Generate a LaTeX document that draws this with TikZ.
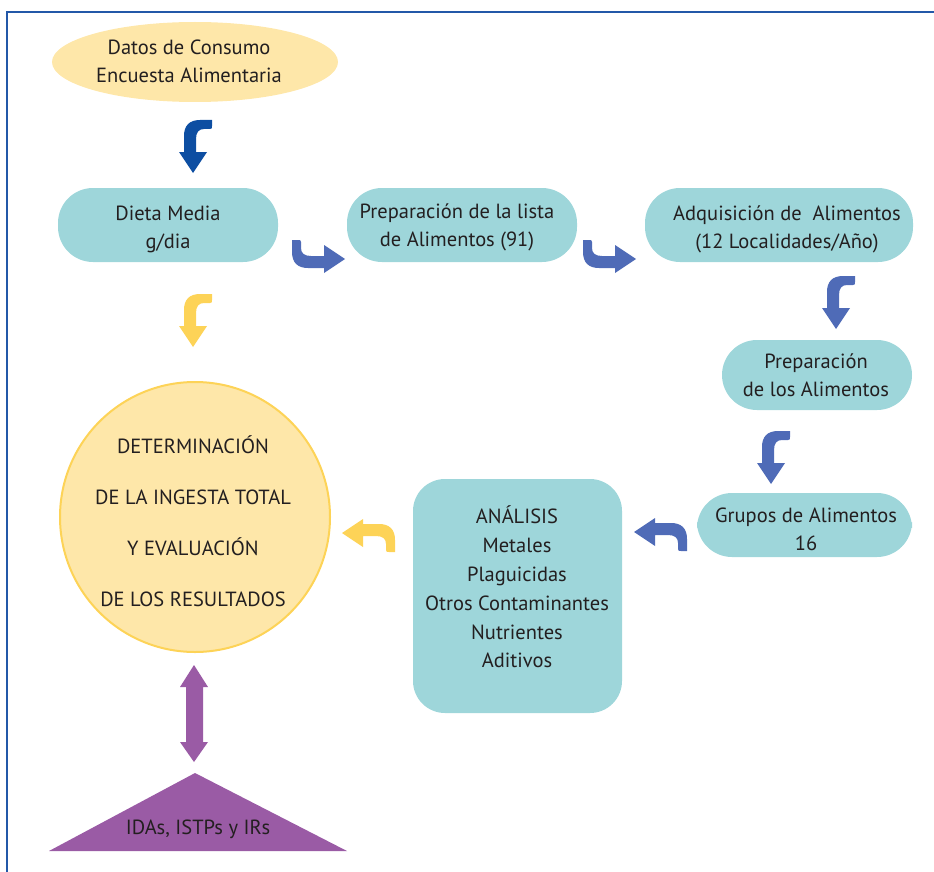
\documentclass[tikz,border=0pt]{standalone}
\usepackage{fontspec}
\setmainfont{PT Sans}
\usetikzlibrary{shapes.geometric}
\definecolor{teal1}{HTML}{9ED6DA}
\definecolor{lyel}{HTML}{FEE7A9}
\definecolor{yel}{HTML}{FDD357}
\definecolor{dblue}{HTML}{0D4EA2}
\definecolor{mblue}{HTML}{4F6BB7}
\definecolor{purp}{HTML}{9A5BA5}
\definecolor{frame}{HTML}{2358A8}
\definecolor{txt}{HTML}{231F20}
\tikzset{
  box/.style={fill=teal1, draw=none, rounded corners=35pt},
  lbl/.style={text=txt, align=center, font=\fontsize{20.5}{28}\selectfont, inner sep=0pt},
  hook/.pic={\fill (0,0) -- (14,-21) -- (3,-21) -- (3,-34) .. controls (3,-41) and (6,-44) .. (11,-44) -- (17,-44) .. controls (19,-44) and (19,-45) .. (19,-47) -- (19,-53) -- (7,-53) .. controls (-4,-53) and (-9,-47) .. (-9,-37) -- (-9,-21) -- (-14,-21) -- cycle;}
}
\begin{document}
\begin{tikzpicture}[x=1pt,y=-1pt]
\useasboundingbox (0,0) rectangle (934,872);
% frame
\draw[frame, line width=2pt] (7,872) -- (7,12) -- (934,12);
% top ellipse
\node[ellipse, fill=lyel, minimum width=286pt, minimum height=80pt, inner sep=0pt] (dat) at (195,62) {};
\node[lbl] (datt) at (189,61) {Datos de Consumo\\Encuesta Alimentaria};
% boxes
\path[box] (58,188) rectangle (278,262);
\node[lbl] (die) at (168,229) {Dieta Media\\g/dia};
\path[box] (347,188) rectangle (577,262);
\node[lbl] (pre) at (457,227) {Preparación de la lista\\de Alimentos (91)};
\path[box] (645,188) rectangle (913,262);
\node[lbl] (adq) at (787,229) {Adquisición de~ Alimentos\\(12 Localidades/Año)};
\path[box] (722,340) rectangle (912,410);
\node[lbl] (pal) at (816,375) {Preparación\\de los Alimentos};
\path[box] (697,493) rectangle (912,557);
\node[lbl] (gru) at (806,529) {Grupos de Alimentos\\16};
\path[box, rounded corners=32pt] (413,479) rectangle (622,713);
\node[lbl, font=\fontsize{20.5}{28.8}\selectfont] (ana) at (517,587) {ANÁLISIS\\Metales\\Plaguicidas\\Otros Contaminantes\\Nutrientes\\Aditivos};
% circle
\node[circle, fill=lyel, draw=yel, line width=2pt, minimum size=270pt, inner sep=0pt] (det) at (195,517) {};
\node[lbl, font=\fontsize{20.5}{51}\selectfont] (dett) at (193,521) {DETERMINACIÓN\\DE LA INGESTA TOTAL\\Y EVALUACIÓN\\DE LOS RESULTADOS};
% triangle
\fill[purp] (49,851) -- (195,773) -- (347,851) -- cycle;
\node[lbl] (ida) at (198,829) {IDAs, ISTPs y IRs};
% hooked arrows
\pic[dblue] at (193,173) {hook};
\pic[yel] at (193,347) {hook};
\pic[mblue, rotate=90] at (345,259) {hook};
\pic[mblue, rotate=90] at (636,259) {hook};
\pic[mblue] at (836,329) {hook};
\pic[mblue] at (771,484) {hook};
\pic[mblue, rotate=-90] at (634,532) {hook};
\pic[yel, rotate=-90] at (342,533) {hook};
% double arrow
\fill[purp] (194,665) -- (208,687) -- (203,687) -- (203,742) -- (208,742) -- (194,762) -- (180,742) -- (186,742) -- (186,687) -- (180,687) -- cycle;
\end{tikzpicture}
\end{document}
